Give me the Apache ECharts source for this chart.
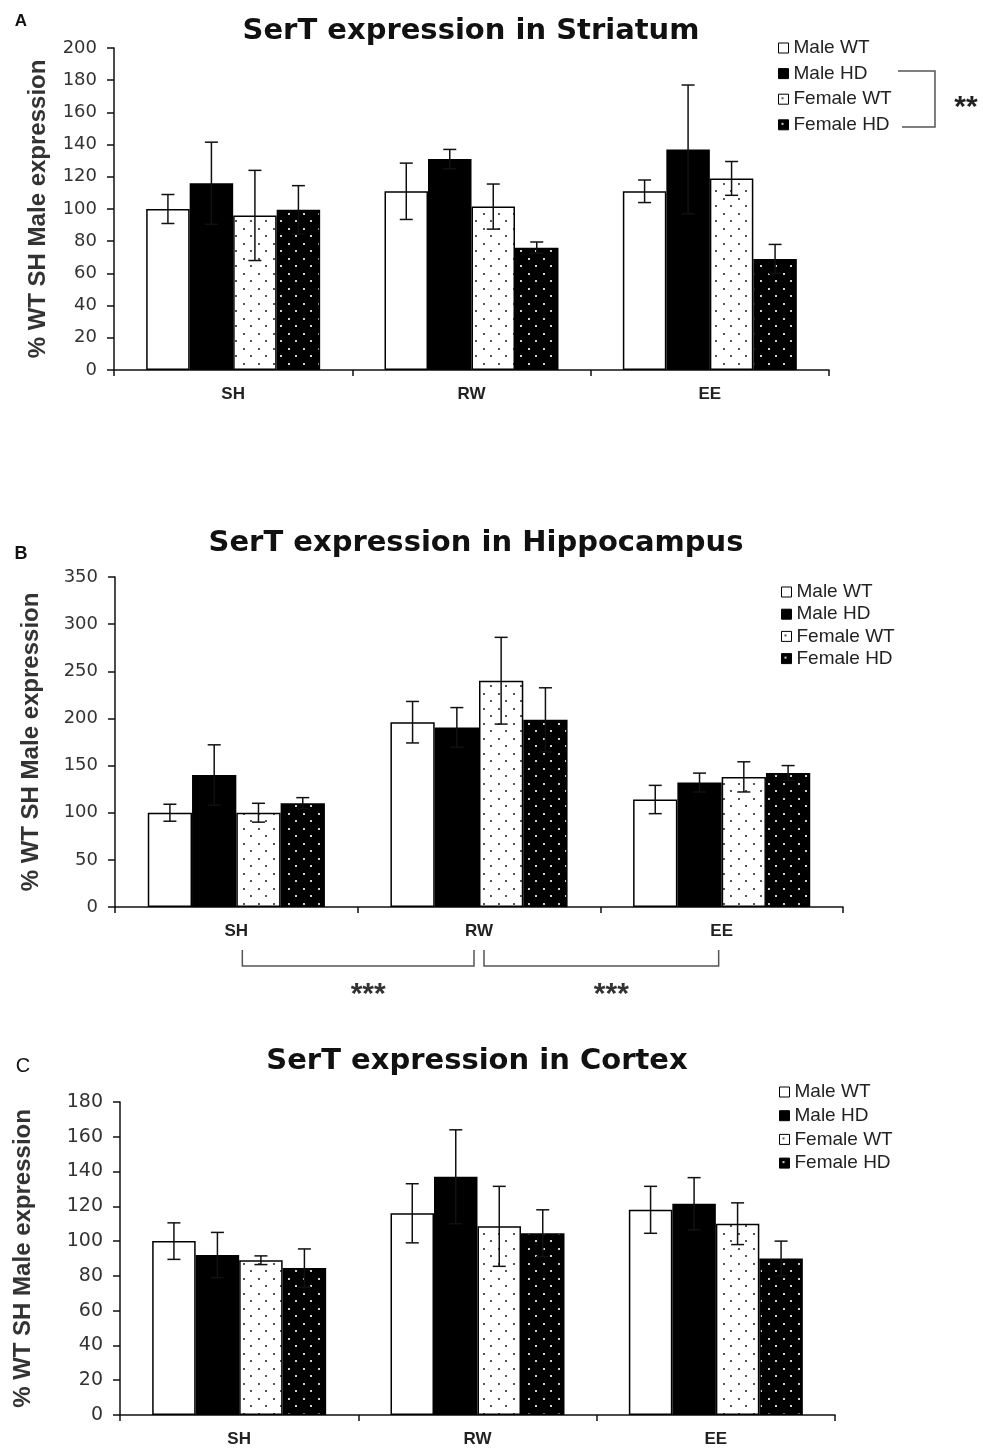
<!DOCTYPE html>
<html>
<head>
<meta charset="utf-8">
<script src="https://cdn.jsdelivr.net/npm/echarts@6/dist/echarts.min.js"></script>
<style>
html,body{margin:0;padding:0;background:#fff;}
#main{width:983px;height:1448px;}
</style>
</head>
<body>
<div id="main"></div>
<script>
// ---------- data ----------
const categories = ['SH', 'RW', 'EE'];
const groupNames = ['Male WT', 'Male HD', 'Female WT', 'Female HD'];

// Panel A: Striatum
const striatumMaleWT = [100, 111, 111];
const striatumMaleWTErr = [9, 17.5, 7];
const striatumMaleHD = [116, 131, 137];
const striatumMaleHDErr = [25.5, 6, 40];
const striatumFemaleWT = [96, 101.5, 119];
const striatumFemaleWTErr = [28, 14, 10.5];
const striatumFemaleHD = [99.5, 76, 69];
const striatumFemaleHDErr = [15, 3.5, 9];

// Panel B: Hippocampus
const hippoMaleWT = [100, 196, 114];
const hippoMaleWTErr = [9, 22, 15];
const hippoMaleHD = [140, 190.5, 132];
const hippoMaleHDErr = [32, 21, 10];
const hippoFemaleWT = [100, 240, 138];
const hippoFemaleWTErr = [10, 46, 16];
const hippoFemaleHD = [110, 198.5, 142];
const hippoFemaleHDErr = [6, 34, 8];

// Panel C: Cortex
const cortexMaleWT = [100, 116, 118];
const cortexMaleWTErr = [10.5, 17, 13.5];
const cortexMaleHD = [92, 137, 121.5];
const cortexMaleHDErr = [13, 27, 15];
const cortexFemaleWT = [89, 108.5, 110];
const cortexFemaleWTErr = [2.5, 23, 12];
const cortexFemaleHD = [84.5, 104.5, 90];
const cortexFemaleHDErr = [11, 13.5, 10];

// axis settings
const yMaxA = 200, yStepA = 20;
const yMaxB = 350, yStepB = 50;
const yMaxC = 180, yStepC = 20;

const panelTitles = ['SerT expression in Striatum', 'SerT expression in Hippocampus', 'SerT expression in Cortex'];
const panelLetters = ['A', 'B', 'C'];
const yAxisTitle = '% WT SH Male expression';

// ---------- styling ----------
const GAP = 0.27;
function makePattern(bg, dot) {
  const c = document.createElement('canvas');
  c.width = 15; c.height = 15;
  const ctx = c.getContext('2d');
  ctx.fillStyle = bg; ctx.fillRect(0, 0, 15, 15);
  ctx.fillStyle = dot;
  ctx.fillRect(3, 3, 2, 2);
  ctx.fillRect(10, 10, 2, 2);
  return c;
}
const whiteDots = { image: makePattern('#ffffff', '#555555'), repeat: 'repeat' };
const blackDots = { image: makePattern('#000000', '#d0d0d0'), repeat: 'repeat' };
const fills = ['#ffffff', '#000000', whiteDots, blackDots];

const panels = [
  { vals: [striatumMaleWT, striatumMaleHD, striatumFemaleWT, striatumFemaleHD],
    errs: [striatumMaleWTErr, striatumMaleHDErr, striatumFemaleWTErr, striatumFemaleHDErr],
    max: yMaxA, step: yStepA, grid: { left: 114, top: 48, width: 715, height: 322 }, nameGap: 64,
    tickFont: 18 },
  { vals: [hippoMaleWT, hippoMaleHD, hippoFemaleWT, hippoFemaleHD],
    errs: [hippoMaleWTErr, hippoMaleHDErr, hippoFemaleWTErr, hippoFemaleHDErr],
    max: yMaxB, step: yStepB, grid: { left: 115, top: 577, width: 728, height: 330 }, nameGap: 72,
    tickFont: 18 },
  { vals: [cortexMaleWT, cortexMaleHD, cortexFemaleWT, cortexFemaleHD],
    errs: [cortexMaleWTErr, cortexMaleHDErr, cortexFemaleWTErr, cortexFemaleHDErr],
    max: yMaxC, step: yStepC, grid: { left: 120, top: 1102, width: 715, height: 313 }, nameGap: 85,
    tickFont: 19 }
];

const axisLineStyle = { color: '#111', width: 1.5 };

const grids = [], xAxes = [], yAxes = [], series = [];
panels.forEach((p, pi) => {
  grids.push(Object.assign({ containLabel: false }, p.grid));
  xAxes.push({
    type: 'category', gridIndex: pi, data: categories,
    axisLine: { lineStyle: axisLineStyle },
    axisTick: { show: true, length: 6, lineStyle: axisLineStyle },
    axisLabel: { fontFamily: 'Liberation Sans', fontWeight: 'bold', fontSize: 17, color: '#222', margin: 16 },
    splitLine: { show: false }
  });
  yAxes.push({
    type: 'value', gridIndex: pi, min: 0, max: p.max, interval: p.step,
    name: yAxisTitle, nameLocation: 'middle', nameGap: p.nameGap, nameRotate: 90,
    nameTextStyle: { fontFamily: 'Liberation Sans', fontWeight: 'bold', fontSize: 24, color: '#333' },
    axisLine: { show: true, lineStyle: axisLineStyle },
    axisTick: { show: true, length: 7, lineStyle: axisLineStyle },
    axisLabel: { fontFamily: 'DejaVu Sans', fontSize: p.tickFont, color: '#333', margin: 17 },
    splitLine: { show: false }
  });
  p.vals.forEach((vals, gi) => {
    series.push({
      type: 'bar', name: groupNames[gi], xAxisIndex: pi, yAxisIndex: pi,
      data: vals, barGap: '0%', barCategoryGap: (GAP * 100) + '%',
      itemStyle: { color: fills[gi], borderColor: '#000', borderWidth: 1.5 },
      emphasis: { disabled: true }
    });
  });
  p.vals.forEach((vals, gi) => {
    const errs = p.errs[gi];
    series.push({
      type: 'custom', xAxisIndex: pi, yAxisIndex: pi, z: 5,
      data: vals.map((v, ci) => [ci, v, errs[ci]]),
      encode: { x: 0, y: 1 },
      renderItem: function (params, api) {
        const c = api.value(0), v = api.value(1), e = api.value(2);
        const pt = api.coord([c, v]);
        const cw = api.size([1, 0])[0];
        const bw = cw * (1 - GAP) / 4;
        const x = pt[0] + (gi - 1.5) * bw;
        const yt = api.coord([c, v + e])[1];
        const yb = api.coord([c, v - e])[1];
        const h = 6.5;
        const st = { stroke: '#111', lineWidth: 1.5 };
        return { type: 'group', children: [
          { type: 'line', shape: { x1: x, y1: yt, x2: x, y2: yb }, style: st },
          { type: 'line', shape: { x1: x - h, y1: yt, x2: x + h, y2: yt }, style: st },
          { type: 'line', shape: { x1: x - h, y1: yb, x2: x + h, y2: yb }, style: st }
        ] };
      }
    });
  });
});

const legendBase = {
  data: groupNames, orient: 'vertical', icon: 'rect', itemWidth: 10, itemHeight: 10,
  selectedMode: false, padding: 0,
  textStyle: { fontFamily: 'Liberation Sans', fontSize: 19, color: '#222', lineHeight: 20 },
  itemStyle: { borderColor: '#000', borderWidth: 1 }
};
const legends = [
  Object.assign({}, legendBase, { left: 778, top: 38, itemGap: 5.6 }),
  Object.assign({}, legendBase, { left: 781, top: 582, itemGap: 2.2 }),
  Object.assign({}, legendBase, { left: 779, top: 1082, itemGap: 3.7 })
];

const chart = echarts.init(document.getElementById('main'), null, { renderer: 'canvas' });
chart.setOption({
  animation: false,
  backgroundColor: '#ffffff',
  grid: grids, xAxis: xAxes, yAxis: yAxes, legend: legends, series: series
});

// ---------- annotations (titles, letters, significance brackets) ----------
function cx(axisIdx, cat) { return chart.convertToPixel({ xAxisIndex: axisIdx }, cat); }
const titleY = [31, 543, 1061];
const titleX = [471, 476, 477];
const letterPos = [[21, 21, 17, 'bold'], [21, 554, 18, 'bold'], [23, 1066, 20, 'normal']];
const graphics = [];
panelTitles.forEach((t, i) => {
  graphics.push({ type: 'text', style: { text: t, x: titleX[i], y: titleY[i], textAlign: 'center', textVerticalAlign: 'middle',
    fontFamily: 'DejaVu Sans', fontWeight: 'bold', fontSize: 29, fill: '#111' } });
  graphics.push({ type: 'text', style: { text: panelLetters[i], x: letterPos[i][0], y: letterPos[i][1], textAlign: 'center', textVerticalAlign: 'middle',
    fontFamily: 'Liberation Sans', fontWeight: letterPos[i][3], fontSize: letterPos[i][2], fill: '#111' } });
});
// Panel A legend bracket (HD vs WT)
graphics.push({ type: 'polyline', shape: { points: [[898, 71], [935, 71], [935, 127], [902, 127]] },
  style: { stroke: '#555', lineWidth: 1.5, fill: null } });
graphics.push({ type: 'text', style: { text: '**', x: 966, y: 108, textAlign: 'center', textVerticalAlign: 'middle',
  fontFamily: 'Liberation Sans', fontWeight: 'bold', fontSize: 30, fill: '#222' } });
// Panel B brackets between housing conditions
const sh = cx(1, 'SH'), rw = cx(1, 'RW'), ee = cx(1, 'EE');
const bTop = 950, bBot = 966;
[[sh + 6, rw - 5], [rw + 5, ee - 3]].forEach(([a, b]) => {
  graphics.push({ type: 'polyline', shape: { points: [[a, bTop], [a, bBot], [b, bBot], [b, bTop]] },
    style: { stroke: '#555', lineWidth: 1.5, fill: null } });
  graphics.push({ type: 'text', style: { text: '***', x: (a + b) / 2 + 10, y: 995, textAlign: 'center', textVerticalAlign: 'middle',
    fontFamily: 'Liberation Sans', fontWeight: 'bold', fontSize: 30, fill: '#333' } });
});
chart.setOption({ graphic: graphics });
</script>
</body>
</html>
